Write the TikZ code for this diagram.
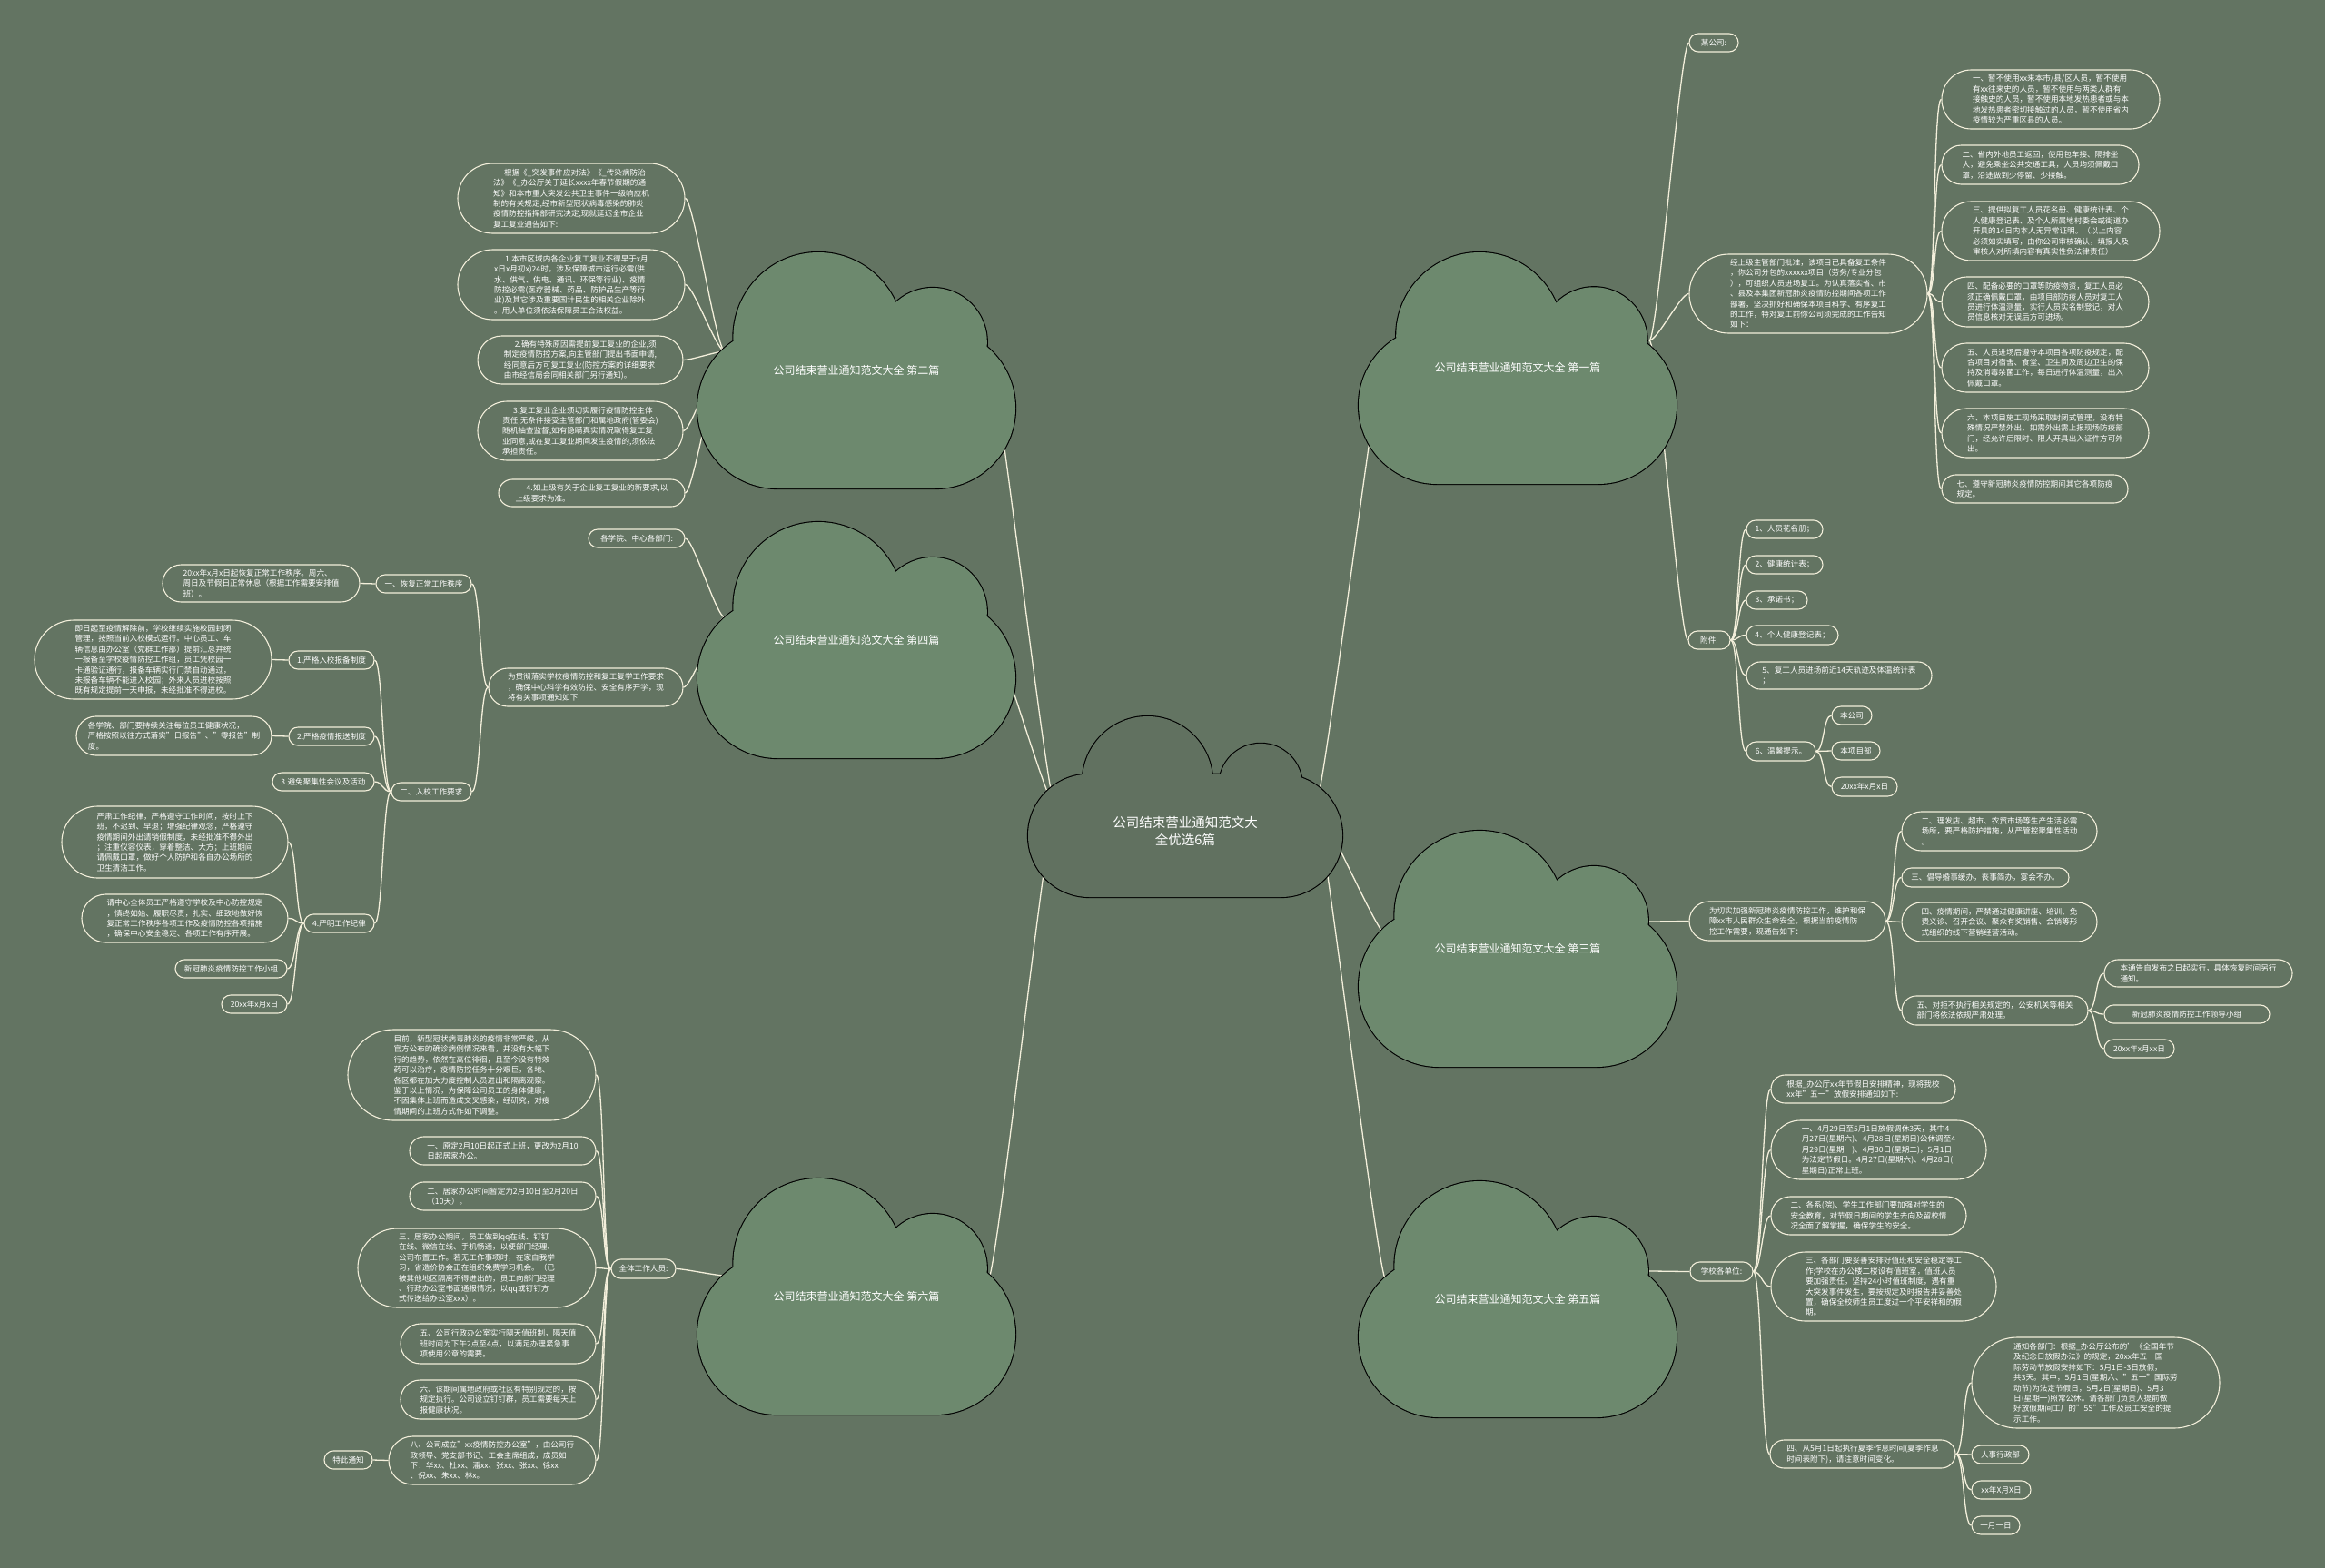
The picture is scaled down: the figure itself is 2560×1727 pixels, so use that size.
\documentclass[tikz,border=0pt]{standalone}
\usepackage{fontspec}
\setmainfont{Noto Sans CJK SC}
\usetikzlibrary{shapes.misc}
\definecolor{bgc}{RGB}{99,116,98}
\definecolor{cloudc}{RGB}{109,137,110}
\definecolor{linec}{RGB}{243,239,219}
\definecolor{ctrc}{RGB}{97,113,96}
\newcommand\leaffont{\fontsize{8.6}{11.4}\selectfont}
\newcommand\bx[6]{\node[leaf, minimum width={#4-#2}, minimum height={#5-#3}] (#1) at ({(#2+#4)/2},{(#3+#5)/2}) {#6};}
\newcommand\cloudat[5]{%
 \pgfmathsetmacro\cAx{#1}\pgfmathsetmacro\cAy{#2+0.32*#4}%
 \pgfmathsetmacro\cBx{#1+#3}\pgfmathsetmacro\cBy{#2+#4}%
 \pgfmathsetmacro\cR{0.339*#4}%
 \pgfmathsetmacro\cDx{#1+0.38*#3}\pgfmathsetmacro\cDy{#2+0.36*#4}\pgfmathsetmacro\cDr{0.36*#4}%
 \pgfmathsetmacro\cEx{#1+0.74*#3}\pgfmathsetmacro\cEy{#2+0.38*#4}\pgfmathsetmacro\cEr{0.23*#4}%
 \path[draw=black, line width=2.2pt] (\cAx,\cAy) [rounded corners=\cR pt] rectangle (\cBx,\cBy) [sharp corners] (\cDx,\cDy) circle[radius=\cDr pt] (\cEx,\cEy) circle[radius=\cEr pt];
 \path[fill=#5] (\cAx,\cAy) [rounded corners=\cR pt] rectangle (\cBx,\cBy) [sharp corners] (\cDx,\cDy) circle[radius=\cDr pt] (\cEx,\cEy) circle[radius=\cEr pt];
}
\pgfdeclarelayer{conns}
\pgfdeclarelayer{clouds}
\pgfsetlayers{conns,clouds,main}
\tikzset{
 leaf/.style={rounded rectangle, draw=linec, line width=1.1pt, text=white, font=\leaffont, align=left, inner xsep=1pt, inner ysep=1pt},
 conn/.style={draw=linec, line width=1.3pt},
 lc/.style={to path={.. controls ([xshift=-9pt]\tikztostart) and ([xshift=9pt]\tikztotarget) .. (\tikztotarget)}},
 rc/.style={to path={.. controls ([xshift=9pt]\tikztostart) and ([xshift=-9pt]\tikztotarget) .. (\tikztotarget)}},
 clabel/.style={text=white, font=\fontsize{12}{14}\selectfont},
}
\begin{document}
\begin{tikzpicture}[x=1pt,y=-1pt]
\useasboundingbox (0,0) rectangle (2560,1727);
\begin{pgfonlayer}{conns}
\fill[bgc] (0,0) rectangle (2560,1727);
\end{pgfonlayer}
\begin{pgfonlayer}{clouds}
\cloudat{1132}{789}{346}{199}{ctrc}
\cloudat{768}{278}{350}{260}{cloudc}
\cloudat{768}{575}{350}{260}{cloudc}
\cloudat{768}{1298}{350}{260}{cloudc}
\cloudat{1496}{278}{350}{255}{cloudc}
\cloudat{1496}{915}{350}{260}{cloudc}
\cloudat{1496}{1301}{350}{260}{cloudc}
\end{pgfonlayer}
% cloud labels
\node[text=white, font=\fontsize{14.5}{19}\selectfont, align=center] (ctr) at (1305,915) {公司结束营业通知范文大\\全优选6篇};
\node[clabel] (t2) at (943,408) {公司结束营业通知范文大全 第二篇};
\node[clabel] (t4) at (943,705) {公司结束营业通知范文大全 第四篇};
\node[clabel] (t6) at (943,1428) {公司结束营业通知范文大全 第六篇};
\node[clabel] (t1) at (1671,405) {公司结束营业通知范文大全 第一篇};
\node[clabel] (t3) at (1671,1045) {公司结束营业通知范文大全 第三篇};
\node[clabel] (t5) at (1671,1431) {公司结束营业通知范文大全 第五篇};
% attach points
\coordinate (cl) at (1162,889);
\coordinate (cr) at (1448,889);
\coordinate (c2l) at (798,387); \coordinate (c2r) at (1088,387);
\coordinate (c4l) at (798,680); \coordinate (c4r) at (1088,690);
\coordinate (c6l) at (798,1405); \coordinate (c6r) at (1088,1410);
\coordinate (c1l) at (1526,384); \coordinate (c1r) at (1816,375);
\coordinate (c3l) at (1526,1030); \coordinate (c3r) at (1816,1015);
\coordinate (c5l) at (1526,1410); \coordinate (c5r) at (1816,1400);
% ---------- Part 2
\bx{a1}{503}{180}{755}{257}{\hspace*{1.4em}根据《\_突发事件应对法》《\_传染病防治\\法》《\_办公厅关于延长xxxx年春节假期的通\\知》和本市重大突发公共卫生事件一级响应机\\制的有关规定,经市新型冠状病毒感染的肺炎\\疫情防控指挥部研究决定,现就延迟全市企业\\复工复业通告如下:}
\bx{a2}{503}{275}{755}{352}{\hspace*{1.4em}1.本市区域内各企业复工复业不得早于x月\\x日x月初x)24时。涉及保障城市运行必需(供\\水、供气、供电、通讯、环保等行业)、疫情\\防控必需(医疗器械、药品、防护品生产等行\\业)及其它涉及重要国计民生的相关企业除外\\。用人单位须依法保障员工合法权益。}
\bx{a3}{525}{370}{753}{423}{\hspace*{1.4em}2.确有特殊原因需提前复工复业的企业,须\\制定疫情防控方案,向主管部门提出书面申请,\\经同意后方可复工复业(防控方案的详细要求\\由市经信局会同相关部门另行通知)。}
\bx{a4}{525}{442}{753}{507}{\hspace*{1.4em}3.复工复业企业须切实履行疫情防控主体\\责任,无条件接受主管部门和属地政府(管委会)\\随机抽查监督,如有隐瞒真实情况取得复工复\\业同意,或在复工复业期间发生疫情的,须依法\\承担责任。}
\bx{a5}{548}{528}{755}{558}{\hspace*{1.4em}4.如上级有关于企业复工复业的新要求,以\\上级要求为准。}
% ---------- Part 4
\bx{b0}{647}{583}{755}{603}{各学院、中心各部门:}
\bx{b1}{537}{736}{753}{778}{为贯彻落实学校疫情防控和复工复学工作要求\\，确保中心科学有效防控、安全有序开学，现\\将有关事项通知如下:}
\bx{b2}{413}{633}{520}{653}{一、恢复正常工作秩序}
\bx{b3}{430}{862}{520}{882}{二、入校工作要求}
\bx{b4}{178}{622}{397}{663}{20xx年x月x日起恢复正常工作秩序。周六、\\周日及节假日正常休息（根据工作需要安排值\\班）。}
\bx{b5}{317}{717}{413}{737}{1.严格入校报备制度}
\bx{b6}{37}{683}{300}{770}{即日起至疫情解除前，学校继续实施校园封闭\\管理，按照当前入校模式运行。中心员工、车\\辆信息由办公室（党群工作部）提前汇总并统\\一报备至学校疫情防控工作组，员工凭校园一\\卡通验证通行，报备车辆实行门禁自动通过，\\未报备车辆不能进入校园；外来人员进校按照\\既有规定提前一天申报，未经批准不得进校。}
\bx{b7}{317}{801}{413}{821}{2.严格疫情报送制度}
\bx{b8}{83}{789}{300}{832}{各学院、部门要持续关注每位员工健康状况，\\严格按照以往方式落实"日报告"、"零报告"制\\度。}
\bx{b9}{299}{851}{413}{871}{3.避免聚集性会议及活动}
\bx{b10}{334}{1007}{413}{1027}{4.严明工作纪律}
\bx{b11}{67}{888}{318}{967}{严肃工作纪律，严格遵守工作时间，按时上下\\班，不迟到、早退；增强纪律观念，严格遵守\\疫情期间外出请销假制度，未经批准不得外出\\；注重仪容仪表，穿着整洁、大方；上班期间\\请佩戴口罩，做好个人防护和各自办公场所的\\卫生清洁工作。}
\bx{b12}{89}{985}{318}{1038}{请中心全体员工严格遵守学校及中心防控规定\\，慎终如始、履职尽责，扎实、细致地做好恢\\复正常工作秩序各项工作及疫情防控各项措施\\，确保中心安全稳定、各项工作有序开展。}
\bx{b13}{192}{1057}{317}{1077}{新冠肺炎疫情防控工作小组}
\bx{b14}{243}{1096}{317}{1116}{20xx年x月x日}
% ---------- Part 6
\bx{c0}{672}{1387}{745}{1408}{全体工作人员:}
\bx{c1}{382}{1134}{657}{1234}{目前，新型冠状病毒肺炎的疫情非常严峻，从\\官方公布的确诊病例情况来看，并没有大幅下\\行的趋势，依然在高位徘徊，且至今没有特效\\药可以治疗，疫情防控任务十分艰巨，各地、\\各区都在加大力度控制人员进出和隔离观察。\\鉴于以上情况，为保障公司员工的身体健康，\\不因集体上班而造成交叉感染，经研究，对疫\\情期间的上班方式作如下调整。}
\bx{c2}{450}{1252}{657}{1283}{一、原定2月10日起正式上班，更改为2月10\\日起居家办公。}
\bx{c3}{450}{1302}{657}{1333}{二、居家办公时间暂定为2月10日至2月20日\\（10天）。}
\bx{c4}{393}{1353}{657}{1440}{三、居家办公期间，员工做到qq在线、钉钉\\在线、微信在线、手机畅通，以便部门经理、\\公司布置工作。若无工作事项时，在家自我学\\习，省造价协会正在组织免费学习机会。（已\\被其他地区隔离不得进出的，员工向部门经理\\、行政办公室书面通报情况，以qq或钉钉方\\式传送给办公室xxx）。}
\bx{c5}{440}{1458}{657}{1502}{五、公司行政办公室实行隔天值班制，隔天值\\班时间为下午2点至4点，以满足办理紧急事\\项使用公章的需要。}
\bx{c6}{440}{1520}{657}{1563}{六、该期间属地政府或社区有特别规定的，按\\规定执行。公司设立钉钉群，员工需要每天上\\报健康状况。}
\bx{c7}{427}{1582}{657}{1635}{八、公司成立"xx疫情防控办公室"，由公司行\\政领导、党支部书记、工会主席组成，成员如\\下：华xx、杜xx、潘xx、张xx、张xx、徐xx\\、倪xx、朱xx、林x。}
\bx{c8}{356}{1598}{411}{1618}{特此通知}
% ---------- Part 1
\bx{d0}{1859}{37}{1915}{57}{某公司:}
\bx{d1}{1859}{280}{2123}{367}{经上级主管部门批准，该项目已具备复工条件\\，你公司分包的xxxxxx项目（劳务/专业分包\\），可组织人员进场复工。为认真落实省、市\\、县及本集团新冠肺炎疫情防控期间各项工作\\部署，坚决抓好和确保本项目科学、有序复工\\的工作，特对复工前你公司须完成的工作告知\\如下：}
\bx{d2}{1858}{695}{1906}{715}{附件:}
\bx{d3}{1922}{573}{2008}{593}{1、人员花名册；}
\bx{d4}{1922}{612}{2008}{632}{2、健康统计表；}
\bx{d5}{1922}{651}{1991}{671}{3、承诺书；}
\bx{d6}{1922}{689}{2025}{710}{4、个人健康登记表；}
\bx{d7}{1922}{729}{2128}{759}{5、复工人员进场前近14天轨迹及体温统计表\\；}
\bx{d8}{1922}{817}{2000}{838}{6、温馨提示。}
\bx{d9}{2016}{778}{2062}{798}{本公司}
\bx{d10}{2016}{817}{2071}{837}{本项目部}
\bx{d11}{2016}{856}{2090}{877}{20xx年x月x日}
\bx{d12}{2137}{77}{2379}{142}{一、暂不使用xx来本市/县/区人员，暂不使用\\有xx往来史的人员，暂不使用与两类人群有\\接触史的人员，暂不使用本地发热患者或与本\\地发热患者密切接触过的人员，暂不使用省内\\疫情较为严重区县的人员。}
\bx{d13}{2137}{160}{2356}{203}{二、省内外地员工返回，使用包车接、隔排坐\\人，避免乘坐公共交通工具，人员均须佩戴口\\罩，沿途做到少停留、少接触。}
\bx{d14}{2137}{222}{2379}{287}{三、提供拟复工人员花名册、健康统计表、个\\人健康登记表、及个人所属地村委会或街道办\\开具的14日内本人无异常证明。（以上内容\\必须如实填写，由你公司审核确认，填报人及\\审核人对所填内容有真实性负法律责任）}
\bx{d15}{2137}{305}{2367}{360}{四、配备必要的口罩等防疫物资，复工人员必\\须正确佩戴口罩，由项目部防疫人员对复工人\\员进行体温测量，实行人员实名制登记，对人\\员信息核对无误后方可进场。}
\bx{d16}{2137}{378}{2367}{432}{五、人员进场后遵守本项目各项防疫规定，配\\合项目对宿舍、食堂、卫生间及周边卫生的保\\持及消毒杀菌工作，每日进行体温测量，出入\\佩戴口罩。}
\bx{d17}{2137}{450}{2367}{504}{六、本项目施工现场采取封闭式管理，没有特\\殊情况严禁外出，如需外出需上报现场防疫部\\门，经允许后限时、限人开具出入证件方可外\\出。}
\bx{d18}{2137}{523}{2344}{554}{七、遵守新冠肺炎疫情防控期间其它各项防疫\\规定。}
% ---------- Part 3
\bx{e0}{1859}{993}{2077}{1036}{为切实加强新冠肺炎疫情防控工作，维护和保\\障xx市人民群众生命安全，根据当前疫情防\\控工作需要，现通告如下：}
\bx{e1}{2093}{894}{2310}{937}{二、理发店、超市、农贸市场等生产生活必需\\场所，要严格防护措施，从严管控聚集性活动\\。}
\bx{e2}{2093}{956}{2279}{977}{三、倡导婚事缓办，丧事简办，宴会不办。}
\bx{e3}{2093}{994}{2310}{1037}{四、疫情期间，严禁通过健康讲座、培训、免\\费义诊、召开会议、聚众有奖销售、会销等形\\式组织的线下营销经营活动。}
\bx{e4}{2093}{1097}{2300}{1129}{五、对拒不执行相关规定的，公安机关等相关\\部门将依法依规严肃处理。}
\bx{e5}{2316}{1057}{2525}{1087}{本通告自发布之日起实行，具体恢复时间另行\\通知。}
\bx{e6}{2316}{1107}{2500}{1127}{新冠肺炎疫情防控工作领导小组}
\bx{e7}{2316}{1145}{2395}{1165}{20xx年x月xx日}
% ---------- Part 5
\bx{f0}{1860}{1390}{1931}{1411}{学校各单位:}
\bx{f1}{1949}{1184}{2154}{1215}{根据\_办公厅xx年节假日安排精神，现将我校\\xx年"五一"放假安排通知如下:}
\bx{f2}{1949}{1234}{2188}{1299}{一、4月29日至5月1日放假调休3天，其中4\\月27日(星期六)、4月28日(星期日)公休调至4\\月29日(星期一)、4月30日(星期二)，5月1日\\为法定节假日。4月27日(星期六)、4月28日(\\星期日)正常上班。}
\bx{f3}{1949}{1318}{2166}{1360}{二、各系(院)、学生工作部门要加强对学生的\\安全教育，对节假日期间的学生去向及留校情\\况全面了解掌握，确保学生的安全。}
\bx{f4}{1949}{1379}{2199}{1455}{三、各部门要妥善安排好值班和安全稳定等工\\作;学校在办公楼二楼设有值班室，值班人员\\要加强责任，坚持24小时值班制度，遇有重\\大突发事件发生，要按规定及时报告并妥善处\\置，确保全校师生员工度过一个平安祥和的假\\期。}
\bx{f5}{1948}{1586}{2154}{1617}{四、从5月1日起执行夏季作息时间(夏季作息\\时间表附下)，请注意时间变化。}
\bx{f6}{2170}{1473}{2445}{1573}{通知各部门：根据\_办公厅公布的'《全国年节\\及纪念日放假办法》的规定，20xx年五一国\\际劳动节放假安排如下：5月1日-3日放假，\\共3天。其中，5月1日(星期六、"五一"国际劳\\动节)为法定节假日，5月2日(星期日)、5月3\\日(星期一)照常公休。请各部门负责人提前做\\好放假期间工厂的"5S"工作及员工安全的提\\示工作。}
\bx{f7}{2170}{1592}{2235}{1612}{人事行政部}
\bx{f8}{2170}{1631}{2237}{1651}{xx年X月X日}
\bx{f9}{2170}{1670}{2225}{1690}{一月一日}
% ---------- connectors
\begin{pgfonlayer}{conns}
\draw[conn,lc] (cl) to (c2r) (cl) to (c4r) (cl) to (c6r);
\draw[conn,rc] (cr) to (c1l) (cr) to (c3l) (cr) to (c5l);
\foreach \n in {a1,a2,a3,a4,a5} \draw[conn,lc] (c2l) to (\n.east);
\foreach \n in {b0,b1} \draw[conn,lc] (c4l) to (\n.east);
\foreach \n in {b2,b3} \draw[conn,lc] (b1.west) to (\n.east);
\draw[conn,lc] (b2.west) to (b4.east);
\foreach \n in {b5,b7,b9,b10} \draw[conn,lc] (b3.west) to (\n.east);
\draw[conn,lc] (b5.west) to (b6.east);
\draw[conn,lc] (b7.west) to (b8.east);
\foreach \n in {b11,b12,b13,b14} \draw[conn,lc] (b10.west) to (\n.east);
\draw[conn,lc] (c6l) to (c0.east);
\foreach \n in {c1,c2,c3,c4,c5,c6,c7} \draw[conn,lc] (c0.west) to (\n.east);
\draw[conn,lc] (c7.west) to (c8.east);
\foreach \n in {d0,d1,d2} \draw[conn,rc] (c1r) to (\n.west);
\foreach \n in {d12,d13,d14,d15,d16,d17,d18} \draw[conn,rc] (d1.east) to (\n.west);
\foreach \n in {d3,d4,d5,d6,d7,d8} \draw[conn,rc] (d2.east) to (\n.west);
\foreach \n in {d9,d10,d11} \draw[conn,rc] (d8.east) to (\n.west);
\draw[conn,rc] (c3r) to (e0.west);
\foreach \n in {e1,e2,e3,e4} \draw[conn,rc] (e0.east) to (\n.west);
\foreach \n in {e5,e6,e7} \draw[conn,rc] (e4.east) to (\n.west);
\draw[conn,rc] (c5r) to (f0.west);
\foreach \n in {f1,f2,f3,f4,f5} \draw[conn,rc] (f0.east) to (\n.west);
\foreach \n in {f6,f7,f8,f9} \draw[conn,rc] (f5.east) to (\n.west);
\end{pgfonlayer}
\end{tikzpicture}
\end{document}
